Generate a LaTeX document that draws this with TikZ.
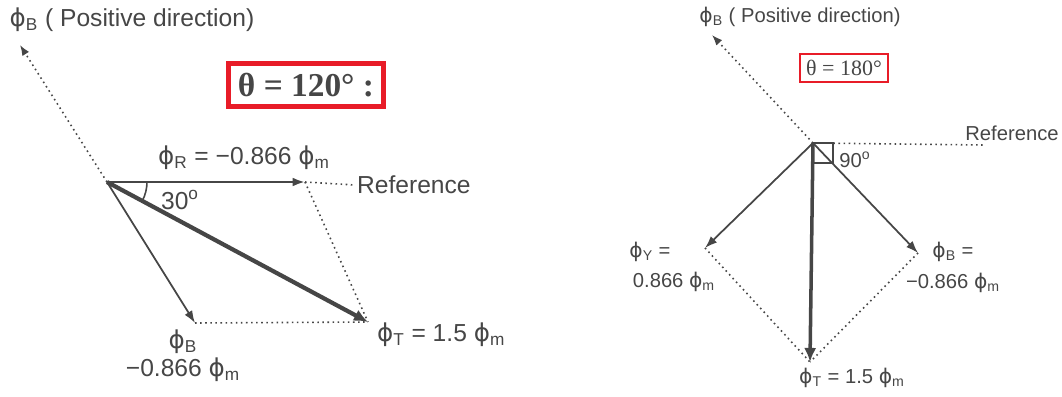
\documentclass[tikz,border=0pt]{standalone}
\usepackage{fontspec}
\setmainfont{Liberation Sans}
\newfontfamily\serifbox{Liberation Serif}
\newfontfamily\phifont{DejaVu Sans}
\newcommand{\ph}{{\phifont ϕ}}
\usetikzlibrary{arrows.meta,angles}
\definecolor{ink}{RGB}{70,70,70}
\definecolor{boxred}{RGB}{232,28,40}
\tikzset{
	vec/.style = {ink, line width=1pt, -{Latex[length=7pt,width=5pt]}},
	bigvec/.style = {ink, line width=2.4pt, -{Latex[length=8pt,width=7pt]}},
	dotline/.style = {ink, dotted, line width=0.9pt},
	lbl/.style = {text=ink, inner sep=1pt, font=\fontsize{14}{16}\selectfont},
	slbl/.style = {text=ink, inner sep=1pt, font=\fontsize{11.5}{13}\selectfont},
}
\begin{document}
\begin{tikzpicture}[x=0.02cm, y=-0.02cm]
	\useasboundingbox (0,0) rectangle (1062,396);
	% theta = 120
	\coordinate (O1) at (107,182);
	\coordinate (R1) at (305,182);
	\coordinate (B1) at (195,323);
	\coordinate (T1) at (368,322);
	\coordinate (P1) at (20,45);
	\node [lbl] (pos1) at (132,20) {\ph\textsubscript{B} ( Positive direction)};
	\node [draw=boxred, line width=2.6pt, minimum width=3.1cm, minimum height=0.86cm,
	       font=\serifbox\bfseries\fontsize{19}{22}\selectfont, text=ink] (box1) at (306,85) {θ = 120° :};
	\node [lbl] (labR1) at (244,158) {\ph\textsubscript{R} = −0.866 \ph\textsubscript{m}};
	\node [lbl, anchor=west] (ref1) at (355,185) {Reference};
	\node [lbl] (ang1) at (180,200) {30\textsuperscript{o}};
	\node [lbl] (labB1) at (183,342) {\ph\textsubscript{B}};
	\node [lbl] (valB1) at (183,370) {−0.866 \ph\textsubscript{m}};
	\node [lbl, anchor=west] (labT1) at (375,335) {\ph\textsubscript{T} = 1.5 \ph\textsubscript{m}};
	\draw [dotline, -{Latex[length=6pt,width=4.5pt]}] (O1) -- (P1);
	\draw [dotline] (R1) -- (ref1.west);
	\draw [dotline] (R1) -- (T1);
	\draw [dotline] (B1) -- (T1);
	\draw [vec, line width=1.3pt] (O1) -- (R1);
	\draw [vec] (O1) -- (B1);
	\draw [bigvec] (O1) -- (T1);
	\pic [draw=ink, line width=0.9pt, angle radius=0.8cm] {angle = T1--O1--R1};
	% theta = 180
	\coordinate (O2) at (813,143);
	\coordinate (Y2) at (705,248);
	\coordinate (B2) at (918,253);
	\coordinate (T2) at (810,362);
	\coordinate (P2) at (712,35);
	\coordinate (E2) at (983,145);
	\node [slbl] (pos2) at (800,17) {\ph\textsubscript{B} ( Positive direction)};
	\node [draw=boxred, line width=1.2pt, minimum width=1.74cm, minimum height=0.52cm,
	       font=\serifbox\fontsize{12.5}{14}\selectfont, text=ink] (box2) at (844,68) {θ = 180°};
	\node [slbl] (ref2) at (1012,133) {Reference};
	\node [slbl] (ang2) at (855,160) {90\textsuperscript{o}};
	\node [slbl] (labY2) at (650,252) {\ph\textsubscript{Y} =};
	\node [slbl] (valY2) at (674,282) {0.866 \ph\textsubscript{m}};
	\node [slbl] (labB2) at (953,252) {\ph\textsubscript{B} =};
	\node [slbl] (valB2) at (953,283) {−0.866 \ph\textsubscript{m}};
	\node [slbl] (labT2) at (852,378) {\ph\textsubscript{T} = 1.5 \ph\textsubscript{m}};
	\draw [dotline, -{Latex[length=6pt,width=4.5pt]}] (O2) -- (P2);
	\draw [dotline] (O2) -- (E2);
	\draw [dotline] (Y2) -- (T2);
	\draw [dotline] (B2) -- (T2);
	\draw [ink, line width=0.9pt] (O2) rectangle ++(20,20);
	\draw [vec] (O2) -- (Y2);
	\draw [vec] (O2) -- (B2);
	\draw [bigvec, line width=2pt] (O2) -- (T2);
\end{tikzpicture}
\end{document}
